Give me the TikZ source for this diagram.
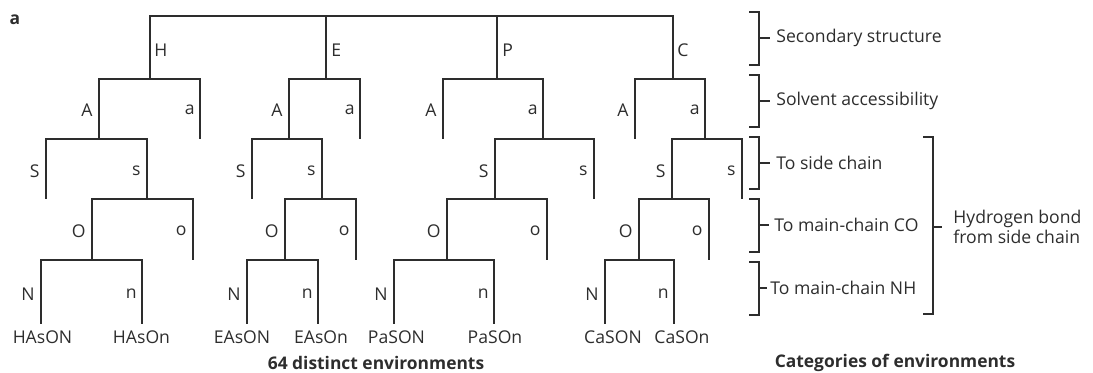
\documentclass[tikz,border=0pt]{standalone}
\usepackage{fontspec}
\setmainfont{Open Sans}
\definecolor{ink}{RGB}{45,45,45}
\begin{document}
\begin{tikzpicture}[x=0.5pt,y=-0.5pt,
  br/.style={draw=ink,line width=0.6pt},
  lbl/.style={inner sep=0pt,text=ink,font=\fontsize{8.8}{10}\selectfont},
  lft/.style={lbl,anchor=east},
  rgt/.style={lbl,anchor=west},
  leaf/.style={lbl},
  boldlbl/.style={inner sep=0pt,text=ink,font=\fontsize{8.7}{10}\selectfont\bfseries},
  cat/.style={lbl,anchor=west}]
\useasboundingbox (0,0) rectangle (1093,373);
\node[boldlbl] (panel) at (15,20) {a};
% ---- coordinates of tree junctions ----
\coordinate (root) at (411,16);
% H group
\coordinate (H) at (150,79);
\coordinate (HA) at (99,139);   \coordinate (Ha) at (200,139);
\coordinate (HS) at (46,199);   \coordinate (Hs) at (147,199);
\coordinate (HO) at (92,260);   \coordinate (Ho) at (193,260);
\coordinate (HN) at (41,324);   \coordinate (Hn) at (142,324);
% E group
\coordinate (E) at (326,79);
\coordinate (EA) at (289,139);  \coordinate (Ea) at (360,139);
\coordinate (ES) at (252,199);  \coordinate (Es) at (322,199);
\coordinate (EO) at (285,260);  \coordinate (Eo) at (356,260);
\coordinate (EN) at (247,324);  \coordinate (En) at (318,324);
% P group
\coordinate (P) at (497,79);
\coordinate (PA) at (443,139);  \coordinate (Pa) at (543,139);
\coordinate (PS) at (495,199);  \coordinate (Ps) at (594,199);
\coordinate (PO) at (447,260);  \coordinate (Po) at (547,260);
\coordinate (PN) at (394,324);  \coordinate (Pn) at (494,324);
% C group
\coordinate (C) at (673,79);
\coordinate (CA) at (635,139);  \coordinate (Ca) at (705,139);
\coordinate (CS) at (672,199);  \coordinate (Cs) at (742,199);
\coordinate (CO) at (639,260);  \coordinate (Co) at (709,260);
\coordinate (CN) at (605,324);  \coordinate (Cn) at (674,324);
% ---- branches ----
\draw[br] (H) |- (root) -| (C);
\draw[br] (E) -- (E|-root);
\draw[br] (P) -- (P|-root);
\draw[br] (HA) |- (H) -| (Ha);
\draw[br] (HS) |- (HA) -| (Hs);
\draw[br] (HO) |- (Hs) -| (Ho);
\draw[br] (HN) |- (HO) -| (Hn);
\draw[br] (EA) |- (E) -| (Ea);
\draw[br] (ES) |- (EA) -| (Es);
\draw[br] (EO) |- (Es) -| (Eo);
\draw[br] (EN) |- (EO) -| (En);
\draw[br] (PA) |- (P) -| (Pa);
\draw[br] (PS) |- (Pa) -| (Ps);
\draw[br] (PO) |- (PS) -| (Po);
\draw[br] (PN) |- (PO) -| (Pn);
\draw[br] (CA) |- (C) -| (Ca);
\draw[br] (CS) |- (Ca) -| (Cs);
\draw[br] (CO) |- (CS) -| (Co);
\draw[br] (CN) |- (CO) -| (Cn);
% ---- branch labels ----
\node[rgt] (lH) at (154,50) {H};
\node[rgt] (lE) at (331,50) {E};
\node[rgt] (lP) at (502,50) {P};
\node[rgt] (lC) at (677,50) {C};
\foreach \g/\ax/\aax/\sx/\ssx/\ox/\oox/\nx/\nnx in
  {H/99/200/46/147/92/193/41/142, E/289/360/252/322/285/356/247/318,
   P/443/543/495/594/447/547/394/494, C/635/705/672/742/639/709/605/674}{
  \node[lft] (l\g A) at (\ax-6,110) {A};
  \node[lft] (l\g a) at (\aax-5,110) {a};
  \node[lft] (l\g S) at (\sx-6,171) {S};
  \node[lft] (l\g s) at (\ssx-6,171) {s};
  \node[lft] (l\g O) at (\ox-6,231) {O};
  \node[lft] (l\g o) at (\oox-6,231) {o};
  \node[lft] (l\g N) at (\nx-6,294) {N};
  \node[lft] (l\g n) at (\nnx-5,294) {n};
}
% ---- leaves ----
\node[leaf] (HAsON) at (42.5,337) {HAsON};
\node[leaf] (HAsOn) at (141.5,337) {HAsOn};
\node[leaf] (EAsON) at (242,337) {EAsON};
\node[leaf] (EAsOn) at (321,337) {EAsOn};
\node[leaf] (PaSON) at (396.5,337) {PaSON};
\node[leaf] (PaSOn) at (495,337) {PaSOn};
\node[leaf] (CaSON) at (613,337) {CaSON};
\node[leaf] (CaSOn) at (682,337) {CaSOn};
\node[boldlbl] (envs) at (376,363) {64 distinct environments};
\node[boldlbl] (cats) at (895,363) {Categories of environments};
% ---- category brackets ----
\coordinate (b1t) at (749,12);  \coordinate (b1b) at (749,65);
\coordinate (b2t) at (749,75);  \coordinate (b2b) at (749,127);
\coordinate (b3t) at (749,137); \coordinate (b3b) at (749,189);
\coordinate (b4t) at (749,199); \coordinate (b4b) at (749,252);
\coordinate (b5t) at (749,262); \coordinate (b5b) at (749,315);
\coordinate (bHt) at (923,137); \coordinate (bHb) at (923,314);
\draw[br] (b1t) -- ++(10,0) coordinate (b1r) -- (b1r|-b1b) -- (b1b);
\draw[br] (b2t) -- ++(10,0) coordinate (b2r) -- (b2r|-b2b) -- (b2b);
\draw[br] (b3t) -- ++(10,0) coordinate (b3r) -- (b3r|-b3b) -- (b3b);
\draw[br] (b4t) -- ++(10,0) coordinate (b4r) -- (b4r|-b4b) -- (b4b);
\draw[br] (b5t) -- ++(10,0) coordinate (b5r) -- (b5r|-b5b) -- (b5b);
\draw[br] (bHt) -- ++(10,0) coordinate (bHr) -- (bHr|-bHb) -- (bHb);
\node[cat] (t1) at (776,38) {Secondary structure};
\node[cat] (t2) at (776,101) {Solvent accessibility};
\node[cat] (t3) at (776,163) {To side chain};
\node[cat] (t4) at (774,225) {To main-chain CO};
\node[cat] (t5) at (770,288) {To main-chain NH};
\node[cat,align=left] (t6) at (953,227) {Hydrogen bond\\from side chain};
\draw[br] (b1r|-t1.west) -- ++(11,0);
\draw[br] (b2r|-t2.west) -- ++(11,0);
\draw[br] (b3r|-t3.west) -- ++(11,0);
\draw[br] (b4r|-t4.west) -- ++(10,0);
\draw[br] (b5r|-t5.west) -- ++(8,0);
\draw[br] (bHr|-t6.west) -- ++(9,0);
\end{tikzpicture}
\end{document}
